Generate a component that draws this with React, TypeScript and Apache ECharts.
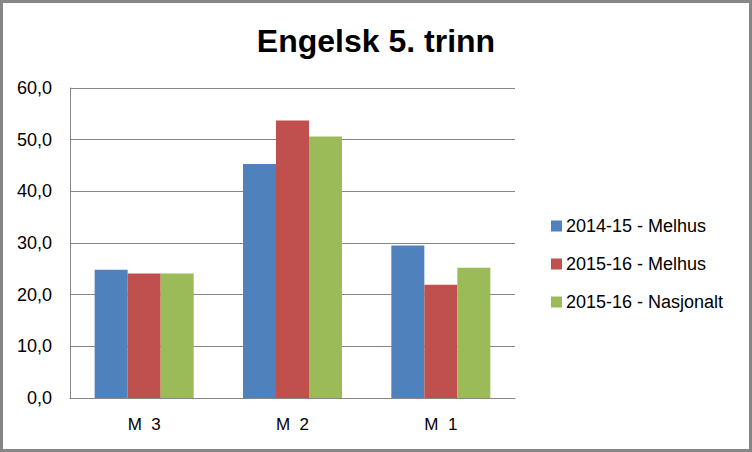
import React, { useEffect, useRef } from "react";
import * as echarts from "echarts";

const categories = ["M  3", "M  2", "M  1"];
const seriesNames = ["2014-15 - Melhus", "2015-16 - Melhus", "2015-16 - Nasjonalt"];
const melhus1415 = [24.8, 45.3, 29.5];
const melhus1516 = [24.1, 53.7, 21.9];
const nasjonalt1516 = [24.1, 50.6, 25.2];
const colors = ["#4F81BD", "#C0504D", "#9BBB59"];
const titleText = "Engelsk 5. trinn";

const FONT = "'Liberation Sans', Arial, sans-serif";

export default function App() {
  const ref = useRef<HTMLDivElement>(null);
  useEffect(() => {
    if (!ref.current) return;
    const chart = echarts.init(ref.current, null, { renderer: "svg" });
    const values = [melhus1415, melhus1516, nasjonalt1516];
    chart.setOption({
      animation: false,
      backgroundColor: "#ffffff",
      textStyle: { fontFamily: FONT },
      title: {
        text: titleText,
        left: "center",
        top: 20,
        textStyle: { fontFamily: FONT, fontSize: 32, fontWeight: "bold", color: "#000000" },
      },
      legend: {
        orient: "vertical",
        left: 546,
        top: 211,
        itemWidth: 11,
        itemHeight: 11,
        itemGap: 18,
        icon: "rect",
        textStyle: { fontFamily: FONT, fontSize: 18, color: "#000000", lineHeight: 20, padding: [0, 0, 0, -1] },
        data: seriesNames,
      },
      graphic: [
        {
          type: "rect",
          shape: { x: 1.5, y: 1.5, width: 749, height: 449 },
          style: { fill: "none", stroke: "#868686", lineWidth: 3 },
          silent: true,
        },
      ],
      grid: { left: 70, right: 237, top: 88, bottom: 54, containLabel: false },
      xAxis: {
        type: "category",
        data: categories,
        axisLine: { show: true, lineStyle: { color: "#868686", width: 1 } },
        axisTick: { show: false },
        axisLabel: { fontFamily: FONT, fontSize: 17, color: "#000000", margin: 18 },
      },
      yAxis: {
        type: "value",
        min: 0,
        max: 60,
        interval: 10,
        axisLine: { show: true, lineStyle: { color: "#868686", width: 1 } },
        axisTick: { show: false },
        splitLine: { show: true, lineStyle: { color: "#868686", width: 1 } },
        axisLabel: {
          fontFamily: FONT,
          fontSize: 18,
          color: "#000000",
          margin: 18,
          formatter: (v: number) => v.toFixed(1).replace(".", ","),
        },
      },
      series: seriesNames.map((name, i) => ({
        name,
        type: "bar",
        data: values[i],
        barWidth: 33,
        barGap: "0%",
        itemStyle: { color: colors[i] },
      })),
    });
    return () => chart.dispose();
  }, []);
  return (
    <div
      ref={ref}
      style={{ position: "fixed", left: 0, top: 0, width: 752, height: 452 }}
    />
  );
}
